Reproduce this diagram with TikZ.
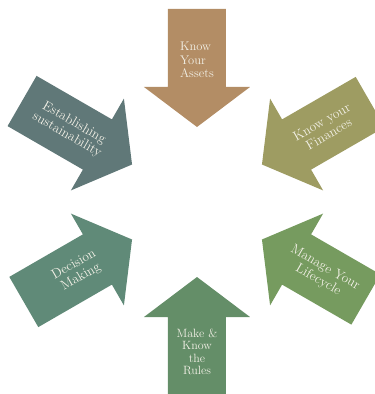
\documentclass[tikz,border=0pt]{standalone}
\definecolor{assets}{RGB}{179,141,101}
\definecolor{finances}{RGB}{158,156,98}
\definecolor{lifecycle}{RGB}{118,155,95}
\definecolor{rules}{RGB}{100,142,104}
\definecolor{decision}{RGB}{96,138,120}
\definecolor{sustain}{RGB}{96,120,120}
\definecolor{cream}{RGB}{242,240,230}
\tikzset{inarrow/.style={fill=#1, line join=miter}}
\tikzset{arrowtext/.style={text=cream, font=\fontsize{13.5}{14}\selectfont, align=center, inner sep=0pt}}

\begin{document}
\begin{tikzpicture}[x=1pt, y=1pt]
    \clip (-197, -192) rectangle (178, 202);
    \fill [inarrow=assets, rotate=90] (75, 0) -- (115, 53) -- (115, 29) -- (193, 29) -- (193, -29) -- (115, -29) -- (115, -53) -- cycle;
    \fill [inarrow=finances, rotate=30] (75, 0) -- (115, 53) -- (115, 29) -- (200, 29) -- (200, -29) -- (115, -29) -- (115, -53) -- cycle;
    \fill [inarrow=lifecycle, rotate=-30] (75, 0) -- (115, 53) -- (115, 29) -- (195, 29) -- (195, -29) -- (115, -29) -- (115, -53) -- cycle;
    \fill [inarrow=rules, rotate=-90] (75, 0) -- (115, 53) -- (115, 29) -- (195, 29) -- (195, -29) -- (115, -29) -- (115, -53) -- cycle;
    \fill [inarrow=decision, rotate=210] (75, 0) -- (115, 53) -- (115, 29) -- (200, 29) -- (200, -29) -- (115, -29) -- (115, -53) -- cycle;
    \fill [inarrow=sustain, rotate=150] (75, 0) -- (115, 53) -- (115, 29) -- (202, 29) -- (202, -29) -- (115, -29) -- (115, -53) -- cycle;
    \node [arrowtext, align=left, font=\fontsize{12.5}{13.5}\selectfont] (assets) at (90:142) {Know\\Your\\Assets};
    \node [arrowtext, rotate=30] (finances) at (30:148) {Know your\\Finances};
    \node [arrowtext, rotate=-30] (lifecycle) at (-30:144) {Manage Your\\Lifecycle};
    \node [arrowtext, font=\fontsize{12}{12.5}\selectfont] (rules) at (-90:150) {Make \&\\Know\\the\\Rules};
    \node [arrowtext, rotate=30] (decision) at (210:138) {Decision\\Making};
    \node [arrowtext, rotate=-30] (sustain) at (150:146) {Establishing\\sustainability};
\end{tikzpicture}
\end{document}
